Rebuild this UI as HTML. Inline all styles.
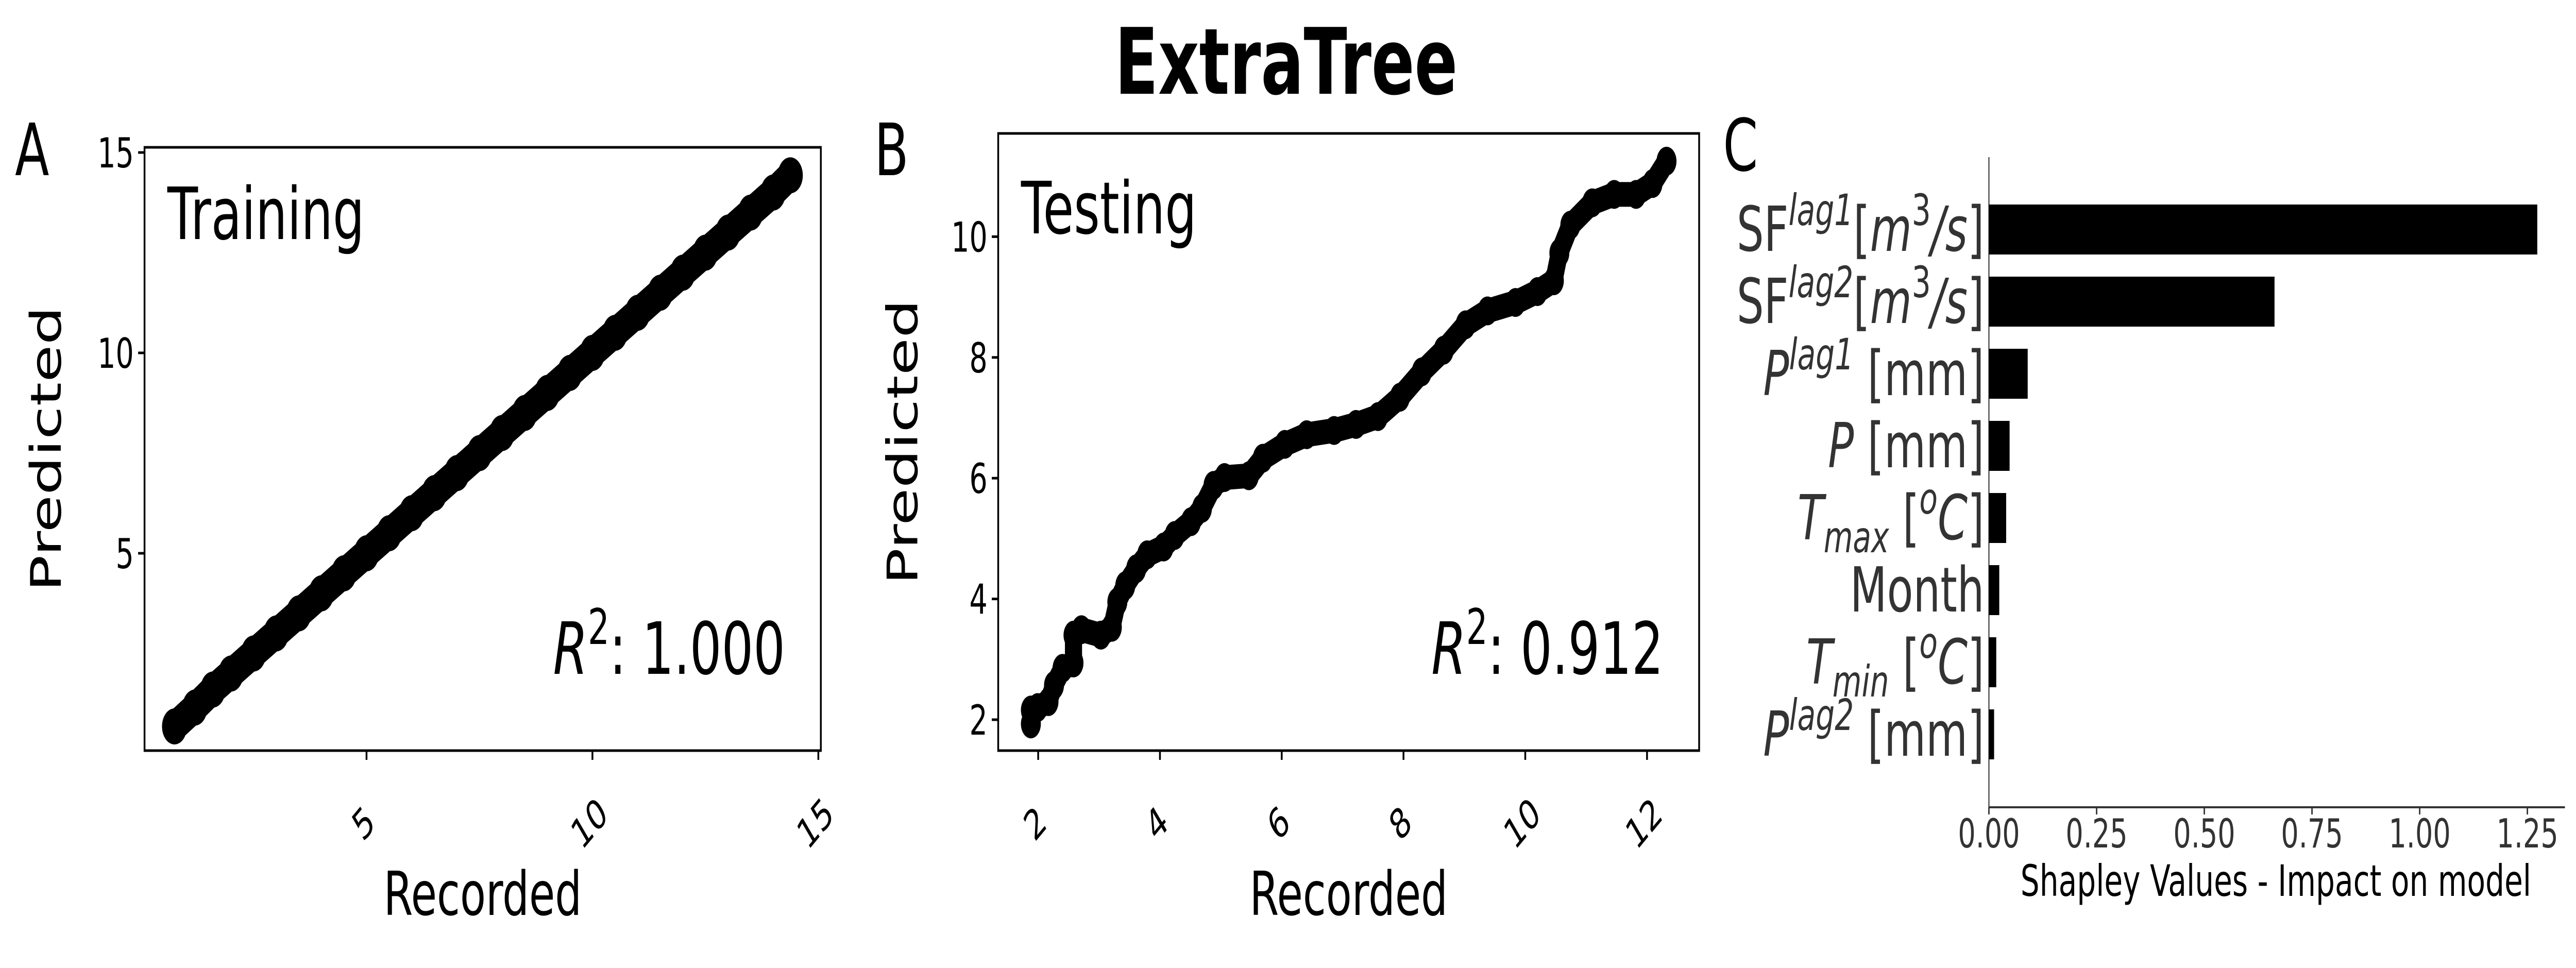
<!DOCTYPE html>
<html><head><meta charset="utf-8"><style>
html,body{margin:0;padding:0;background:#fff;width:100%;height:100%;overflow:hidden;}
svg{display:block;width:100vw;height:100vh;font-family:"DejaVu Sans","Liberation Sans",sans-serif;}
</style></head><body>
<svg id="fig" viewBox="0 0 7218 1879" preserveAspectRatio="none" xmlns="http://www.w3.org/2000/svg">
<rect width="7218" height="1879" fill="#fff"/>
<text x="3604" y="182" font-size="178" font-weight="bold" text-anchor="middle">ExtraTree</text>
<g id="pA"></g>
<g id="pB"></g>
<g id="pC"></g>
</svg>
<script>
const trainRecorded = [0.75,1.2,1.6,2.0,2.5,3.0,3.5,4.0,4.5,5.0,5.5,6.0,6.5,7.0,7.5,8.0,8.5,9.0,9.5,10.0,10.5,11.0,11.5,12.0,12.5,13.0,13.5,14.0,14.38];
const trainPredicted = [0.68,1.15,1.6,2.0,2.5,3.0,3.5,4.0,4.5,5.0,5.5,6.0,6.5,7.0,7.5,8.0,8.5,9.0,9.5,10.0,10.5,11.0,11.5,12.0,12.5,13.0,13.5,14.0,14.43];
const trainXTicks = [5,10,15];
const trainYTicks = [5,10,15];
const testRecorded = [1.88,1.88,1.99,2.17,2.26,2.4,2.58,2.58,2.71,3.03,3.21,3.3,3.43,3.61,3.79,4.06,4.24,4.51,4.69,4.88,5.06,5.46,5.69,6.05,6.41,6.86,7.22,7.58,7.94,8.3,8.66,9.02,9.38,9.84,10.2,10.47,10.56,10.74,11.1,11.46,11.82,12.09,12.32];
const testPredicted = [1.93,2.16,2.2,2.3,2.57,2.85,2.94,3.4,3.49,3.4,3.53,3.95,4.22,4.5,4.73,4.86,5.05,5.28,5.5,5.88,6.01,6.04,6.33,6.56,6.72,6.79,6.89,7.02,7.34,7.76,8.12,8.54,8.77,8.91,9.09,9.27,9.73,10.19,10.56,10.7,10.7,10.88,11.25];
const testXTicks = [2,4,6,8,10,12];
const testYTicks = [2,4,6,8,10];
const featureNames = ["SF_lag1","SF_lag2","P_lag1","P","Tmax","Month","Tmin","P_lag2"];
const shapValues = [1.273,0.663,0.090,0.048,0.040,0.024,0.017,0.012];
const shapTicks = ["0.00","0.25","0.50","0.75","1.00","1.25"];

const NS="http://www.w3.org/2000/svg";
function mk(parent,tag,attrs,text){const e=document.createElementNS(NS,tag);for(const k in attrs)e.setAttribute(k,attrs[k]);if(text!==undefined)e.textContent=text;parent.appendChild(e);return e;}

function scatterPanel(g,cfg){
  const xs=v=>cfg.x0+(v-cfg.xa)*cfg.xk, ys=v=>cfg.y0-(v-cfg.ya)*cfg.yk;
  let d="";
  cfg.rx.forEach((v,i)=>{d+=(i?"L":"M")+xs(v)+" "+ys(cfg.ry[i]);});
  const line=mk(g,"path",{d:d,fill:"none",stroke:"#000","stroke-width":cfg.w,"stroke-linecap":"round","stroke-linejoin":"round"});
  
  
  cfg.rx.forEach((v,i)=>{
    const c=mk(g,"circle",{cx:xs(v),cy:ys(cfg.ry[i]),r:cfg.w/2+4,fill:"#000"});
    
    
  });
  const fr=mk(g,"rect",{x:cfg.L,y:cfg.T,width:cfg.R-cfg.L,height:cfg.B-cfg.T,fill:"none",stroke:"#000","stroke-width":5});
  
  
  cfg.yt.forEach(v=>{
    const y=ys(v);
    mk(g,"line",{x1:cfg.L-18,x2:cfg.L,y1:y,y2:y,stroke:"#000","stroke-width":5});
    const t=mk(g,"text",{x:cfg.L-30,y:y+29,"font-size":80,"text-anchor":"end"},String(v));
    
    
  });
  cfg.xt.forEach(v=>{
    const x=xs(v);
    mk(g,"line",{x1:x,x2:x,y1:cfg.B,y2:cfg.B+18,stroke:"#000","stroke-width":5});
    const t=mk(g,"text",{x:0,y:0,"font-size":80,"text-anchor":"middle","dominant-baseline":"central",transform:`translate(${x-8},${cfg.B+142}) rotate(-40)`},String(v));
    
    
  });
  const xl=mk(g,"text",{x:(cfg.L+cfg.R)/2,y:1776,"font-size":118,"text-anchor":"middle"},"Recorded");
  
  
  const yl=mk(g,"text",{x:0,y:0,"font-size":118,"text-anchor":"middle",transform:`translate(${cfg.ylx},${(cfg.T+cfg.B)/2}) rotate(-90)`},"Predicted");
  
  
  const ti=mk(g,"text",{x:cfg.L+64,y:cfg.titleY,"font-size":140},cfg.title);
  
  
  const r2=mk(g,"text",{x:cfg.R-100,y:1308,"font-size":140,"text-anchor":"end"});
  
  
  mk(r2,"tspan",{"font-style":"italic"},"R");
  mk(r2,"tspan",{"font-size":95,dy:-58},"2");
  mk(r2,"tspan",{dy:58},": "+cfg.r2);
  const lt=mk(g,"text",{x:cfg.letterX,y:340,"font-size":140},cfg.letter);
  
  
}

scatterPanel(document.getElementById("pA"),{x0:1027,xa:5,xk:126.6,y0:1074,ya:5,yk:77.8,L:405,R:2300,T:286,B:1457,
  rx:trainRecorded,ry:trainPredicted,xt:trainXTicks,yt:trainYTicks,w:62,title:"Training",titleY:464,r2:"1.000",ylx:170,letter:"A",letterX:42});
scatterPanel(document.getElementById("pB"),{x0:2909,xa:2,xk:170.6,y0:1397,ya:2,yk:117.2,L:2797,R:4761,T:259,B:1457,
  rx:testRecorded,ry:testPredicted,xt:testXTicks,yt:testYTicks,w:48,title:"Testing",titleY:453,r2:"0.912",ylx:2570,letter:"B",letterX:2450});

(function(){
  const g=document.getElementById("pC");
  const X0=5573, K=1207, top=305, bot=1567, right=7187;
  const xs=v=>X0+v*K;
  const lt=mk(g,"text",{x:4828,y:331,"font-size":140},"C");
  
  
  mk(g,"line",{x1:X0,x2:X0,y1:top,y2:bot,stroke:"#333","stroke-width":3});
  mk(g,"line",{x1:X0,x2:right,y1:bot,y2:bot,stroke:"#333","stroke-width":4});
  const labels=[
    [["SF",{}],["lag1",{"font-style":"italic","font-size":84,dy:-50}],["[",{dy:50}],["m",{"font-style":"italic"}],["3",{"font-size":84,dy:-50}],["/s",{"font-style":"italic",dy:50}],["]",{}]],
    [["SF",{}],["lag2",{"font-style":"italic","font-size":84,dy:-50}],["[",{dy:50}],["m",{"font-style":"italic"}],["3",{"font-size":84,dy:-50}],["/s",{"font-style":"italic",dy:50}],["]",{}]],
    [["P",{"font-style":"italic"}],["lag1",{"font-style":"italic","font-size":84,dy:-50}],[" [mm]",{dy:50}]],
    [["P",{"font-style":"italic"}],[" [mm]",{}]],
    [["T",{"font-style":"italic"}],["max",{"font-style":"italic","font-size":84,dy:25}],[" [",{dy:-25}],["o",{"font-style":"italic","font-size":84,dy:-50}],["C",{"font-style":"italic",dy:50}],["]",{}]],
    [["Month",{}]],
    [["T",{"font-style":"italic"}],["min",{"font-style":"italic","font-size":84,dy:25}],[" [",{dy:-25}],["o",{"font-style":"italic","font-size":84,dy:-50}],["C",{"font-style":"italic",dy:50}],["]",{}]],
    [["P",{"font-style":"italic"}],["lag2",{"font-style":"italic","font-size":84,dy:-50}],[" [mm]",{dy:50}]]
  ];
  featureNames.forEach((n,i)=>{
    const cy=445+i*140;
    const b=mk(g,"rect",{x:X0,y:cy-48,width:xs(shapValues[i])-X0,height:97,fill:"#000"});
    
    
    const t=mk(g,"text",{x:5560,y:cy+42,"font-size":120,"text-anchor":"end",fill:"#333"});
    
    
    labels[i].forEach(([s,a])=>mk(t,"tspan",a,s));
  });
  shapTicks.forEach(s=>{
    const x=xs(parseFloat(s));
    mk(g,"line",{x1:x,x2:x,y1:bot,y2:bot+14,stroke:"#333","stroke-width":4});
    const t=mk(g,"text",{x:x,y:1645,"font-size":78,"text-anchor":"middle",fill:"#333"},s);
    
    
  });
  const xl=mk(g,"text",{x:6377,y:1739,"font-size":84,"text-anchor":"middle"},"Shapley Values - Impact on model");
  
  
})();
</script>
</body></html>
